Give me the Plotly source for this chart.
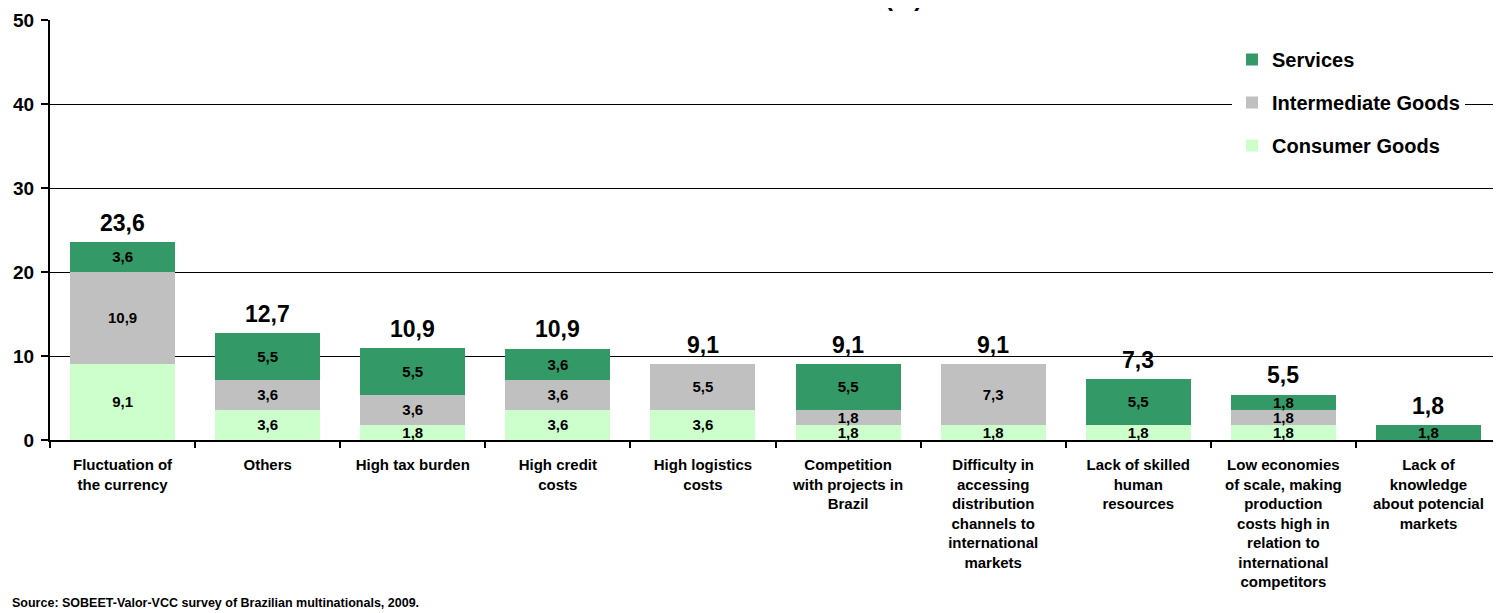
import plotly.graph_objects as go

categories = [
    "Fluctuation of<br>the currency",
    "Others",
    "High tax burden",
    "High credit<br>costs",
    "High logistics<br>costs",
    "Competition<br>with projects in<br>Brazil",
    "Difficulty in<br>accessing<br>distribution<br>channels to<br>international<br>markets",
    "Lack of skilled<br>human<br>resources",
    "Low economies<br>of scale, making<br>production<br>costs high in<br>relation to<br>international<br>competitors",
    "Lack of<br>knowledge<br>about potencial<br>markets",
]
consumer_goods = [9.1, 3.6, 1.8, 3.6, 3.6, 1.8, 1.8, 1.8, 1.8, 0]
intermediate_goods = [10.9, 3.6, 3.6, 3.6, 5.5, 1.8, 7.3, 0, 1.8, 0]
services = [3.6, 5.5, 5.5, 3.6, 0, 5.5, 0, 5.5, 1.8, 1.8]
totals = [23.6, 12.7, 10.9, 10.9, 9.1, 9.1, 9.1, 7.3, 5.5, 1.8]

FONT = "Liberation Sans, Arial, sans-serif"

# the page body has an 8px margin, so the figure starts at (8, 8) on screen
OFF = 8
W, H = 1501 - OFF, 613 - OFF
# plot area in screen pixels (left, right, top, bottom)
L, R, T, B = 50, 1501, 20, 440
PW, PH = R - L, B - T


def fmt(v):
    # decimal comma, blank for empty segments
    return f"{v:.1f}".replace(".", ",") if v else ""


series = [
    ("Consumer Goods", consumer_goods, "#CCFFCC", 3),
    ("Intermediate Goods", intermediate_goods, "#C0C0C0", 2),
    ("Services", services, "#339966", 1),
]

fig = go.Figure()
for name, vals, color, rank in series:
    fig.add_trace(go.Bar(
        x=categories,
        y=vals,
        name=name,
        legendgroup=name,
        legendrank=rank,
        marker=dict(color=color, line=dict(width=0)),
        text=[fmt(v) for v in vals],
        textposition="inside",
        insidetextanchor="middle",
        constraintext="none",
        textfont=dict(family=FONT, size=15, color="black", weight="bold"),
    ))

# totals above the stacks
for cat, tot in zip(categories, totals):
    fig.add_annotation(
        x=cat, y=tot, text=fmt(tot), showarrow=False,
        yanchor="bottom", yshift=4,
        font=dict(family=FONT, size=23, color="black", weight="bold"),
    )

# chart title, cut off by the top edge as in the original
fig.add_annotation(
    xref="paper", yref="paper", x=(903 - L) / PW, y=1,
    text="(%)", showarrow=False, xanchor="center", yanchor="bottom", yshift=7,
    font=dict(family=FONT, size=24, color="black", weight="bold"),
)

fig.add_annotation(
    xref="paper", yref="paper", x=(10 - L) / PW, y=(B - 603) / PH,
    xanchor="left", yanchor="middle",
    text="Source: SOBEET-Valor-VCC survey of Brazilian multinationals, 2009.",
    showarrow=False,
    font=dict(family=FONT, size=12.5, color="black", weight="bold"),
)

fig.update_layout(
    width=W, height=H,
    margin=dict(l=L - OFF, r=W - (R - OFF), t=T - OFF, b=H - (B - OFF), autoexpand=False),
    barmode="stack",
    bargap=0.276,
    plot_bgcolor="white",
    paper_bgcolor="white",
    uniformtext=dict(mode="show", minsize=13),
    showlegend=True,
    legend=dict(
        x=(1232 - L) / PW, xanchor="left",
        y=(B - 40) / PH, yanchor="top",
        traceorder="grouped",
        tracegroupgap=14,
        bgcolor="white",
        font=dict(family=FONT, size=20, color="black", weight="bold"),
        itemwidth=30,
    ),
)

fig.update_yaxes(
    range=[0, 50], dtick=10,
    showgrid=True, gridcolor="black", gridwidth=1,
    showline=True, linecolor="black", linewidth=2,
    ticks="outside", ticklen=7, tickcolor="black", tickwidth=1.5,
    ticklabelstandoff=3,
    tickfont=dict(family=FONT, size=19, color="black", weight="bold"),
    zeroline=False, automargin=False,
)
fig.update_xaxes(
    showline=True, linecolor="black", linewidth=2,
    ticks="outside", ticklen=6, tickcolor="black", tickwidth=1.5,
    tickson="boundaries",
    ticklabelstandoff=10,
    tickfont=dict(family=FONT, size=15, color="black", weight="bold"),
    automargin=False,
)

fig.write_html("out.html")
